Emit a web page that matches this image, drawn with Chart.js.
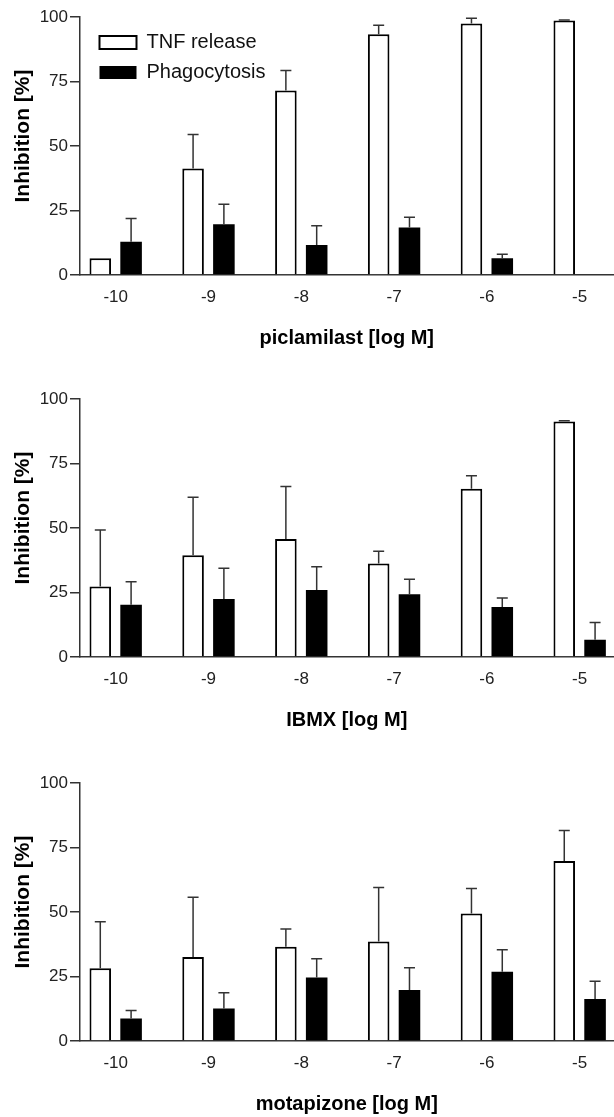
<!DOCTYPE html>
<html lang="en">
<head>
<meta charset="UTF-8">
<title>TNF release and phagocytosis inhibition</title>
<script src="https://cdn.jsdelivr.net/npm/chart.js@4"></script>
<style>
  body { margin: 0; background: #fff; overflow: hidden; }
  canvas.panel { position: absolute; left: 0; }
</style>
</head>
<body>
  <canvas id="c1" class="panel" width="614" height="350" style="top:0"></canvas>
  <canvas id="c2" class="panel" width="614" height="350" style="top:382px"></canvas>
  <canvas id="c3" class="panel" width="614" height="350" style="top:766px"></canvas>
<script>
// concentrations, log M
const doses = [-10, -9, -8, -7, -6, -5];

// mean inhibition [%] and upper error (SEM) per dose
const piclamilastTnf      = [6.5, 41.3, 71.5, 93.3, 97.5, 98.6];
const piclamilastTnfErr   = [null, 13.2, 7.8, 3.5, 2.0, 0.2];
const piclamilastPhago    = [12.9, 19.7, 11.6, 18.4, 6.5, null];
const piclamilastPhagoErr = [9.0, 7.7, 7.5, 4.0, 1.5, null];

const ibmxTnf      = [27.3, 39.4, 45.7, 36.2, 65.2, 91.3];
const ibmxTnfErr   = [21.9, 22.5, 20.4, 4.8, 5.1, 0.3];
const ibmxPhago    = [20.3, 22.5, 26.0, 24.3, 19.4, 6.7];
const ibmxPhagoErr = [8.9, 11.9, 9.0, 5.8, 3.5, 6.7];

const motapizoneTnf      = [28.2, 32.6, 36.5, 38.6, 49.4, 69.8];
const motapizoneTnfErr   = [18.0, 23.1, 6.9, 20.9, 9.7, 11.8];
const motapizonePhago    = [8.7, 12.6, 24.6, 19.8, 26.8, 16.3];
const motapizonePhagoErr = [3.1, 6.1, 7.3, 8.6, 8.6, 6.9];

const yTicks = [0, 25, 50, 75, 100];
const yLabel = 'Inhibition [%]';

const fontFamily = '"Liberation Sans", Arial, Helvetica, sans-serif';
Chart.defaults.font.family = fontFamily;
Chart.defaults.color = '#222';

// upward error bars with a small cap
const errorBars = {
  id: 'errorBars',
  afterDatasetsDraw(chart) {
    const ctx = chart.ctx;
    const yScale = chart.scales.y;
    ctx.save();
    ctx.strokeStyle = '#333';
    ctx.lineWidth = 1.5;
    chart.data.datasets.forEach((ds, i) => {
      const meta = chart.getDatasetMeta(i);
      meta.data.forEach((bar, j) => {
        const v = ds.data[j].y;
        const err = ds.errors[j];
        if (v == null || err == null) return;
        const top = yScale.getPixelForValue(v + err);
        ctx.beginPath();
        ctx.moveTo(bar.x, bar.y);
        ctx.lineTo(bar.x, top);
        ctx.moveTo(bar.x - 5.5, top);
        ctx.lineTo(bar.x + 5.5, top);
        ctx.stroke();
      });
    });
    ctx.restore();
  }
};

// legend goes in the upper left corner of the plot
const legendInside = {
  id: 'legendInside',
  afterLayout(chart) {
    const lg = chart.legend;
    if (!lg || !lg.options.display) return;
    const area = chart.chartArea;
    lg.left = area.left + 10;
    lg.top = area.top + 5.5;
    lg.right = area.right;
    lg.bottom = area.bottom;
    lg.width = lg.right - lg.left;
    lg.height = lg.bottom - lg.top;
  }
};

// rotated y title, sitting a little above the axis middle
const yTitle = {
  id: 'yTitle',
  afterDraw(chart) {
    const { ctx, chartArea } = chart;
    ctx.save();
    ctx.translate(23, (chartArea.top + chartArea.bottom) / 2 - 10);
    ctx.rotate(-Math.PI / 2);
    ctx.font = 'bold 21px ' + fontFamily;
    ctx.fillStyle = '#000';
    ctx.textAlign = 'center';
    ctx.textBaseline = 'middle';
    ctx.fillText(yLabel, 0, 0);
    ctx.restore();
  }
};

function makePanel(id, xTitle, tnf, tnfErr, phago, phagoErr, showLegend) {
  new Chart(document.getElementById(id), {
    type: 'bar',
    data: {
      datasets: [
        {
          label: 'TNF release',
          data: doses.map((d, i) => ({ x: d, y: tnf[i] })),
          errors: tnfErr,
          backgroundColor: '#fff',
          borderColor: '#000',
          borderWidth: 2,
          barPercentage: 0.7,
          categoryPercentage: 0.664
        },
        {
          label: 'Phagocytosis',
          data: doses.map((d, i) => ({ x: d, y: phago[i] })),
          errors: phagoErr,
          backgroundColor: '#000',
          borderColor: '#000',
          borderWidth: 0,
          barPercentage: 0.7,
          categoryPercentage: 0.664
        }
      ]
    },
    options: {
      responsive: false,
      animation: false,
      events: [],
      layout: { padding: { top: 17, right: 0, bottom: 0, left: 0 } },
      plugins: {
        tooltip: { enabled: false },
        legend: {
          display: showLegend,
          position: 'chartArea',
          align: 'start',
          labels: {
            boxWidth: 37,
            boxHeight: 13,
            padding: 10,
            color: '#111',
            font: { size: 20 }
          }
        }
      },
      scales: {
        x: {
          type: 'linear',
          min: -10.39,
          max: -4.63,
          offset: false,
          afterBuildTicks: s => { s.ticks = doses.map(v => ({ value: v })); },
          afterFit: s => { s.height = 75; },
          grid: { display: false, drawTicks: false },
          border: { display: true, color: '#333', width: 1.5 },
          ticks: { padding: 12, maxRotation: 0, font: { size: 17 } },
          title: {
            display: true,
            text: xTitle,
            color: '#000',
            font: { size: 20, weight: 'bold' },
            padding: { top: 0, bottom: 0 }
          }
        },
        y: {
          min: 0,
          max: 100,
          afterBuildTicks: s => { s.ticks = yTicks.map(v => ({ value: v })); },
          afterFit: s => { s.width = 79.5; },
          grid: { drawOnChartArea: false, drawTicks: true, tickLength: 9.5, color: '#333', lineWidth: 1.5 },
          border: { display: true, color: '#333', width: 1.5 },
          ticks: { padding: 2, font: { size: 17 } },
          title: { display: false }
        }
      }
    },
    plugins: [errorBars, legendInside, yTitle]
  });
}

makePanel('c1', 'piclamilast [log M]', piclamilastTnf, piclamilastTnfErr, piclamilastPhago, piclamilastPhagoErr, true);
makePanel('c2', 'IBMX [log M]', ibmxTnf, ibmxTnfErr, ibmxPhago, ibmxPhagoErr, false);
makePanel('c3', 'motapizone [log M]', motapizoneTnf, motapizoneTnfErr, motapizonePhago, motapizonePhagoErr, false);
</script>
</body>
</html>
